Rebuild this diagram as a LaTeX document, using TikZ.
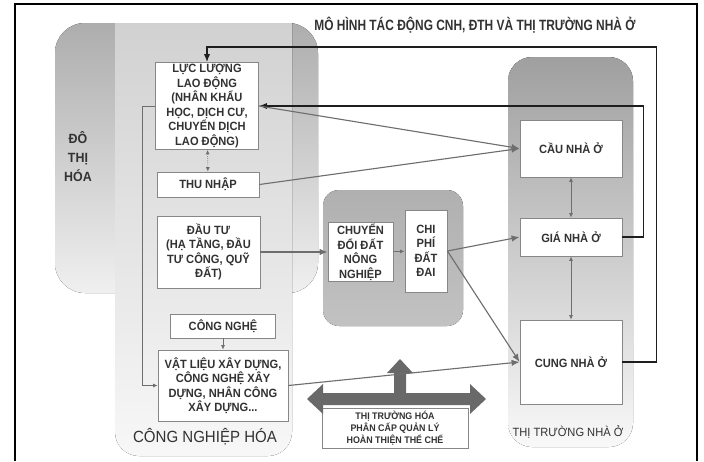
\documentclass[tikz,border=0pt]{standalone}
\usepackage{fontspec}
\setmainfont{Liberation Sans}
\newfontfamily\narrowfont[FakeStretch=0.80]{Liberation Sans}
\newfontfamily\boxfont[FakeStretch=0.93]{Liberation Sans}
\usetikzlibrary{arrows.meta,positioning}
\definecolor{ink}{RGB}{50,50,50}
\definecolor{rim}{RGB}{135,135,135}
\definecolor{wire}{RGB}{110,110,110}
\definecolor{coal}{RGB}{30,30,30}
\definecolor{slab}{RGB}{105,105,105}
\newcommand{\pxu}{0.025cm}
\tikzset{
  >={Latex[length=2mm,width=1.6mm]},
  box/.style={draw=rim,fill=white,line width=0.6pt,text=ink,align=center,
    font=\boxfont\bfseries\fontsize{8.5}{10.3}\selectfont,inner sep=1pt},
  link/.style={->,draw=wire,line width=0.8pt},
  back/.style={->,draw=coal,line width=1pt},
  tiny/.style={draw=wire,line width=0.5pt,>={Latex[length=1.1mm,width=1mm]}},
  tag/.style={text=ink,align=center,font=\boxfont\fontsize{#1}{13}\selectfont},
  tag/.default=9,
}

\begin{document}
\begin{tikzpicture}[x=0.025cm,y=-0.025cm]
  \useasboundingbox (0,0) rectangle (704,461);
  \draw[line width=1.1pt] (15,461) -- (15,4) -- (697,4) -- (697,461);

  % zones
  \fill[rounded corners=0.75cm,top color=gray!64,bottom color=gray!12] (55,23) rectangle (318,293);
  \fill[top color=gray!36,bottom color=gray!6,rounded corners=0.6cm]
    (115,200) -- (115,456) -- (292,456) -- (292,200) [sharp corners] -- (292,23) -- (115,23) -- cycle;
  \fill[rounded corners=0.4cm,top color=gray!62,bottom color=gray!48] (323,190) rectangle (463,326);
  \fill[rounded corners=0.6cm,top color=gray!75,bottom color=gray!5] (508,57) rectangle (633,447);

  \node[text=ink,align=center,font=\boxfont\bfseries\fontsize{9.5}{13.5}\selectfont] (dth) at (78,157) {ĐÔ\\THỊ\\HÓA};
  \node[tag=11.5] (cnh) at (205,437) {CÔNG NGHIỆP HÓA};
  \node[tag=8.5] (ttno) at (568,432) {THỊ TRƯỜNG NHÀ Ở};
  \node[tag,font=\narrowfont\bfseries\fontsize{10.6}{12}\selectfont] (title) at (475,25) {MÔ HÌNH TÁC ĐỘNG CNH, ĐTH VÀ THỊ TRƯỜNG NHÀ Ở};

  % boxes
  \node[box,minimum width=103*\pxu,minimum height=87*\pxu] (lao) at (207,106)
    {LỰC LƯỢNG\\LAO ĐỘNG\\(NHÂN KHẨU\\HỌC, DỊCH CƯ,\\CHUYỂN DỊCH\\LAO ĐỘNG)};
  \node[box,minimum width=102*\pxu,minimum height=25*\pxu] (thunhap) at (208,184.5) {THU NHẬP};
  \node[box,minimum width=103*\pxu,minimum height=72*\pxu] (dautu) at (208.5,252)
    {ĐẦU TƯ\\(HẠ TẦNG, ĐẦU\\TƯ CÔNG, QUỸ\\ĐẤT)};
  \node[box,minimum width=105*\pxu,minimum height=24*\pxu] (congnghe) at (223,326) {CÔNG NGHỆ};
  \node[box,minimum width=130*\pxu,minimum height=71*\pxu] (vatlieu) at (223,385.5)
    {VẬT LIỆU XÂY DỰNG,\\CÔNG NGHỆ XÂY\\DỰNG, NHÂN CÔNG\\XÂY DỰNG...};
  \node[box,minimum width=65*\pxu,minimum height=59*\pxu] (chuyendoi) at (360.5,252)
    {CHUYỂN\\ĐỔI ĐẤT\\NÔNG\\NGHIỆP};
  \node[box,minimum width=42*\pxu,minimum height=82*\pxu] (chiphi) at (426,251)
    {CHI\\PHÍ\\ĐẤT\\ĐAI};
  \node[box,minimum width=102*\pxu,minimum height=57*\pxu] (cau) at (571,148.5) {CẦU NHÀ Ở};
  \node[box,minimum width=102*\pxu,minimum height=38*\pxu] (gia) at (571,237) {GIÁ NHÀ Ở};
  \node[box,minimum width=102*\pxu,minimum height=84*\pxu] (cung) at (571,362) {CUNG NHÀ Ở};
  \node[box,minimum width=146*\pxu,minimum height=40*\pxu,font=\boxfont\bfseries\fontsize{6.8}{8.6}\selectfont]
    (thitruong) at (395,428) {THỊ TRƯỜNG HÓA\\PHÂN CẤP QUẢN LÝ\\HOÀN THIỆN THỂ CHẾ};

  % policy arrow
  \fill[slab] (307,399) -- (323,384) -- (323,393) -- (394,393) -- (394,373) -- (387,373) -- (400,359)
    -- (413,373) -- (406,373) -- (406,393) -- (470,393) -- (470,384) -- (486,399) -- (470,414)
    -- (470,405) -- (323,405) -- (323,414) -- cycle;

  % feedback
  \coordinate (topline) at (207,47);
  \draw[back] (gia.east) -- ++(21,0) |- (lao.east);
  \draw[back] (cung.east) -- ++(34,0) |- (topline) -- (lao.north);

  \draw[link] (lao.east) -- (cau.west);
  \draw[link] (thunhap.east) -- (cau.west);
  \draw[link] (dautu.east) -- (chuyendoi.west);
  \draw[link] (chiphi.east) -- (gia.west);
  \draw[link] (chiphi.east) -- (cung.west);
  \draw[link] (vatlieu.east) -- (cung.west);
  \draw[tiny,->] (lao.west) -- ++(-13,0) |- (vatlieu.west);
  \draw[tiny,->] (chuyendoi) -- (chiphi);
  \draw[tiny,->] (congnghe) -- (vatlieu);
  \draw[tiny,<->,densely dotted] (lao) -- (thunhap);
  \draw[tiny,<->] (cau) -- (gia);
  \draw[tiny,<->] (gia) -- (cung);
\end{tikzpicture}
\end{document}
